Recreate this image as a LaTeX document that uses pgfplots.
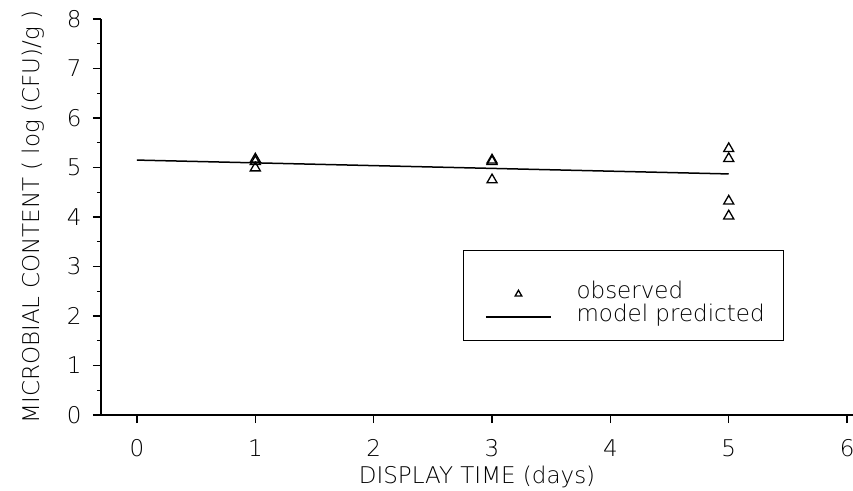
\documentclass[border=0pt]{standalone}
\usepackage{fontspec}
\setmainfont{DejaVu Sans ExtraLight}
\usepackage{pgfplots}
\usepackage{pgfplotstable}
\pgfplotsset{compat=1.18}

% observed microbial counts (log CFU/g) per display day
\pgfplotstableread{
x y
1 5.17
1 5.12
1 4.99
3 5.15
3 5.12
3 4.75
5 5.38
5 5.18
5 4.32
5 4.02
}\observed

% model prediction
\pgfplotstableread{
x y
0 5.15
5 4.87
}\model

\begin{document}
\begin{tikzpicture}
\useasboundingbox (0bp,0bp) rectangle (853bp,491bp);
\begin{axis}[
  at={(101bp,76bp)}, anchor=south west,
  scale only axis, width=752bp, height=396bp,
  xmin=-0.304, xmax=6.05, ymin=0, ymax=8,
  axis x line=bottom, axis y line=left,
  axis line style={-, line width=1.7bp},
  tick align=outside, xtick pos=bottom, ytick pos=left,
  xtick={0,...,6}, ytick={0,...,8}, minor y tick num=1,
  major tick length=8bp, minor tick length=4bp,
  every tick/.style={line width=1.2bp, black},
  font=\fontsize{23bp}{27bp}\selectfont,
  /pgf/number format/assume math mode=true,
  yticklabel style={xshift=-8bp},
  xticklabel style={yshift=-13bp},
  xlabel={DISPLAY TIME (days)},
  ylabel={MICROBIAL CONTENT ( log (CFU)/g )},
  xlabel style={at={(axis description cs:0.5,-0.157)}, anchor=center},
  ylabel style={at={(axis description cs:-0.0904,0.5)}, anchor=center},
  legend style={at={(axis cs:2.942,2.68)}, anchor=north west,
    draw=none, fill=none, inner sep=0pt, column sep=25bp, row sep=0pt,
    nodes={inner sep=0pt, text height=16bp, text depth=7bp}},
  legend cell align=left,
  clip=false,
]
\addplot[only marks, mark=triangle, mark size=5.8bp, mark options={line width=1.3bp, black},
  legend image code/.code={\draw[mark=triangle, mark size=3.8bp, line width=1bp, black] plot coordinates {(32.5bp,0bp)};}]
  table {\observed};
\addlegendentry{observed}
\addplot[black, line width=1.5bp, mark=none,
  legend image code/.code={\draw[black, line width=1.2bp] (0bp,0bp) -- (65bp,0bp);}]
  table {\model};
\addlegendentry{model predicted}
\draw[line width=1bp] (axis cs:2.756,1.515) rectangle (axis cs:5.461,3.333);
\end{axis}
\end{tikzpicture}
\end{document}
